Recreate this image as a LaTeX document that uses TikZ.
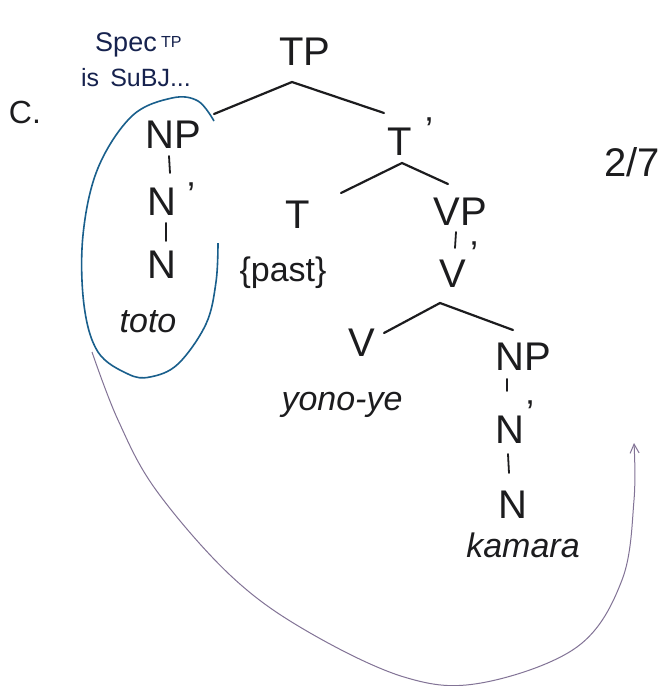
\documentclass[tikz,border=0pt]{standalone}
\usepackage{fontspec}
\setmainfont{Liberation Sans}
\usetikzlibrary{arrows.meta}
\definecolor{ink}{RGB}{28,28,30}
\definecolor{navy}{RGB}{22,34,78}
\definecolor{circ}{RGB}{25,95,140}
\definecolor{pencil}{RGB}{130,115,150}
\tikzset{
  lab/.style={text=ink,inner sep=1pt,font=\fontsize{40}{42}\selectfont},
  wrd/.style={text=ink,inner sep=1pt,font=\fontsize{34}{36}\selectfont\itshape},
  note/.style={text=navy,inner sep=1pt},
  br/.style={draw=ink,line width=2.2pt,line cap=round},
  tick/.style={draw=ink,line width=1.8pt,line cap=round},
  prm/.style={text=ink,inner sep=0pt,font=\fontsize{36}{36}\selectfont}
}
\begin{document}
\begin{tikzpicture}[x=1pt,y=-1pt]
\useasboundingbox[fill=white] (0,0) rectangle (664,686);
% notes
\node[note,font=\fontsize{27}{27}\selectfont] (spec) at (126,45) {Spec};
\node[note,font=\fontsize{16}{16}\selectfont,anchor=west] (spectp) at (160,42) {TP};
\node[note,font=\fontsize{25}{25}\selectfont] (subj) at (136,78) {is \,SuBJ...};
\node[lab,font=\fontsize{32}{32}\selectfont] (c) at (25,112) {C.};
\node[lab] (frac) at (632,162) {2/7};
% tree nodes
\node[lab] (TP) at (305,52) {TP};
\node[lab] (NP1) at (173,135) {NP};
\node[lab] (Nb1) at (162,202) {N};
\node[prm] (Nb1p) at (191,195) {'};
\node[lab] (N1) at (162,265) {N};
\node[wrd] (toto) at (148,322) {toto};
\node[lab] (Tb) at (400,142) {T};
\node[prm] (Tbp) at (429,130) {'};
\node[lab] (T) at (298,215) {T};
\node[lab,font=\fontsize{34}{36}\selectfont] (past) at (283,273) {\{past\}};
\node[lab] (VP) at (460,212) {VP};
\node[lab] (Vb) at (453,274) {V};
\node[prm] (Vbp) at (474,254) {'};
\node[lab] (V) at (362,343) {V};
\node[wrd] (yono) at (342,405) {yono-ye};
\node[lab] (NP2) at (523,357) {NP};
\node[lab] (Nb2) at (510,430) {N};
\node[prm] (Nb2p) at (530,413) {'};
\node[lab] (N2) at (513,505) {N};
\node[wrd] (kamara) at (523,545) {kamara};
% branch points
\coordinate (tpA) at (292,82);
\coordinate (tpL) at (214,114);
\coordinate (tpR) at (384,113);
\coordinate (tbA) at (402,163);
\coordinate (tbL) at (341,193);
\coordinate (tbR) at (448,184);
\coordinate (vbA) at (440,303);
\coordinate (vbL) at (384,333);
\coordinate (vbR) at (513,330);
\draw[br] (tpL) -- (tpA) -- (tpR);
\draw[br] (tbL) -- (tbA) -- (tbR);
\draw[br] (vbL) -- (vbA) -- (vbR);
% unary links
\draw[tick] (NP1.south) ++(-4,6) coordinate (a1) -- ++(1,17);
\draw[tick] (Nb1.south) ++(4,6) coordinate (a2) -- ++(0,18);
\draw[tick] (VP.south) ++(-4,5) coordinate (a3) -- ++(-1,16);
\draw[tick] (NP2.south) ++(-16,7) coordinate (a4) -- ++(0,12);
\draw[tick] (Nb2.south) ++(-2,9) coordinate (a5) -- ++(1,19);
% blue circle round the subject
\draw[circ,line width=1.6pt] plot[smooth,tension=0.6] coordinates {(214,121) (198,101) (172,98) (132,116) (98,168) (83,235) (84,305) (98,352) (128,374) (150,377) (178,364) (206,324) (216,282) (218,243)};
% pencil arrow
\coordinate (arS) at (92,352);
\coordinate (arE) at (634,443);
\draw[pencil,line width=1pt,-{Straight Barb[length=9pt,width=9pt]}] plot[smooth,tension=0.6] coordinates {(arS) (118,420) (156,490) (230,575) (305,630) (404,677) (481,683) (577,647) (622,580) (634,500) (arE)};
\end{tikzpicture}
\end{document}
